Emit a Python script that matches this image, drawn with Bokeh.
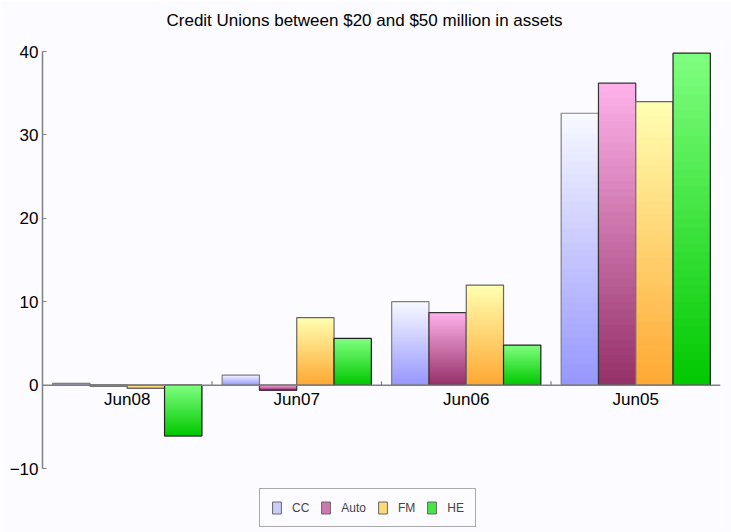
from bokeh.plotting import figure
from bokeh.models import (FactorRange, Range1d, ColumnDataSource, Span, FixedTicker,
                          Legend, LegendItem, Title)
from bokeh.transform import dodge
from bokeh.core.properties import value
from bokeh.embed import file_html
from bokeh.resources import INLINE

# ---- data ----
categories = ["Jun08", "Jun07", "Jun06", "Jun05"]
series = ["CC", "Auto", "FM", "HE"]
cc = [0.2, 1.2, 10.0, 32.6]
auto = [-0.1, -0.6, 8.7, 36.2]
fm = [-0.4, 8.1, 12.0, 34.0]
he = [-6.1, 5.6, 4.8, 39.8]
y_ticks = [-10, 0, 10, 20, 30, 40]

values = {"CC": cc, "Auto": auto, "FM": fm, "HE": he}
top_colors = {"CC": (248, 250, 255), "Auto": (255, 178, 234), "FM": (255, 255, 178), "HE": (128, 255, 128)}
bot_colors = {"CC": (150, 150, 255), "Auto": (148, 48, 104), "FM": (255, 168, 50), "HE": (0, 200, 0)}
outline = {"CC": "#7f7f7f", "Auto": "#333333", "FM": "#666666", "HE": "#222222"}
offsets = [-0.33, -0.11, 0.11, 0.33]
bar_w = 0.22
BG = "#fcfbff"
FONT = "Liberation Sans"
N = 40


def hexc(c):
    return "#%02x%02x%02x" % tuple(int(round(v)) for v in c)


def lerp(a, b, t):
    return tuple(a[i] + (b[i] - a[i]) * t for i in range(3))


# frame extends above/below the axis (axis bounded to -10..40); scale 417 px per 50 units
p = figure(x_range=FactorRange(*categories), y_range=Range1d(-17.43, 42.04),
           frame_width=678, frame_height=496,
           min_border_left=42, min_border_right=11, min_border_top=34, min_border_bottom=2,
           output_backend="svg", toolbar_location=None, x_axis_location=None)
p.title = Title(text="Credit Unions between $20 and $50 million in assets",
                align="left", text_font=FONT, text_font_size="17px",
                text_font_style="normal", text_color="#000000", standoff=10, offset=124)
p.background_fill_color = BG
p.border_fill_color = BG
p.outline_line_color = None
p.xgrid.visible = False
p.ygrid.visible = False

ax = p.yaxis[0]
ax.ticker = FixedTicker(ticks=y_ticks)
ax.bounds = (-10, 40)
ax.axis_line_color = "#808080"
ax.axis_line_width = 1.5
ax.major_tick_line_color = "#808080"
ax.major_tick_in = 4
ax.major_tick_out = 0
ax.minor_tick_line_color = None
ax.major_label_text_font = FONT
ax.major_label_text_font_size = "17px"
ax.major_label_text_color = "#000000"
ax.major_label_standoff = 4

# zero line (category axis)
p.add_layout(Span(location=0, dimension="width", line_color="#808080", line_width=1.5))

legend_items = []
for si, s in enumerate(series):
    vals = values[s]
    mid = hexc(lerp(top_colors[s], bot_colors[s], 0.45))
    # row 0: a mid-colour full bar (fully painted over by the gradient strips), used as legend swatch
    xs, tops, bots, cols, la = [categories[0]], [max(0.0, vals[0])], [min(0.0, vals[0])], [mid], [1.0]
    for cat, v in zip(categories, vals):
        hi, lo = max(0.0, v), min(0.0, v)
        h = hi - lo
        for k in range(N):
            xs.append(cat)
            tops.append(hi - h * k / N)
            bots.append(lo)
            cols.append(hexc(lerp(top_colors[s], bot_colors[s], (k + 0.5) / N)))
            la.append(0.0)
    src = ColumnDataSource(dict(cat=xs, top=tops, bottom=bots, color=cols, la=la))
    r = p.vbar(x=dodge("cat", offsets[si], range=p.x_range), top="top", bottom="bottom",
               width=bar_w, fill_color="color", line_color="#666666", line_alpha="la",
               source=src)
    osrc = ColumnDataSource(dict(cat=categories, val=vals))
    p.vbar(x=dodge("cat", offsets[si], range=p.x_range), top="val", bottom=0,
           width=bar_w, fill_color=None, line_color=outline[s], line_width=1.2, source=osrc)
    legend_items.append(LegendItem(label=s, renderers=[r], index=0))

# category labels and boundary ticks
csrc = ColumnDataSource(dict(cat=categories, zero=[0] * len(categories)))
p.text(x="cat", y="zero", text="cat", source=csrc, text_align="center",
       text_baseline="top", y_offset=5, text_font=value(FONT), text_font_size="17px",
       text_color="#000000")
bsrc = ColumnDataSource(dict(cat=categories[:-1], y0=[0] * 3, y1=[0.45] * 3))
p.segment(x0=dodge("cat", 0.5, range=p.x_range), y0="y0",
          x1=dodge("cat", 0.5, range=p.x_range), y1="y1",
          line_color="#808080", line_width=1.2, source=bsrc)

legend = Legend(items=legend_items, orientation="horizontal", location=(217, 3),
                border_line_color="#555555", border_line_width=1,
                background_fill_color=BG, background_fill_alpha=1,
                glyph_width=11, glyph_height=15, label_text_font=FONT,
                label_text_font_size="12px", label_standoff=10, spacing=11,
                padding=11, margin=0, label_width=16)
p.add_layout(legend)

open("out.html", "w").write(file_html(p, INLINE))
